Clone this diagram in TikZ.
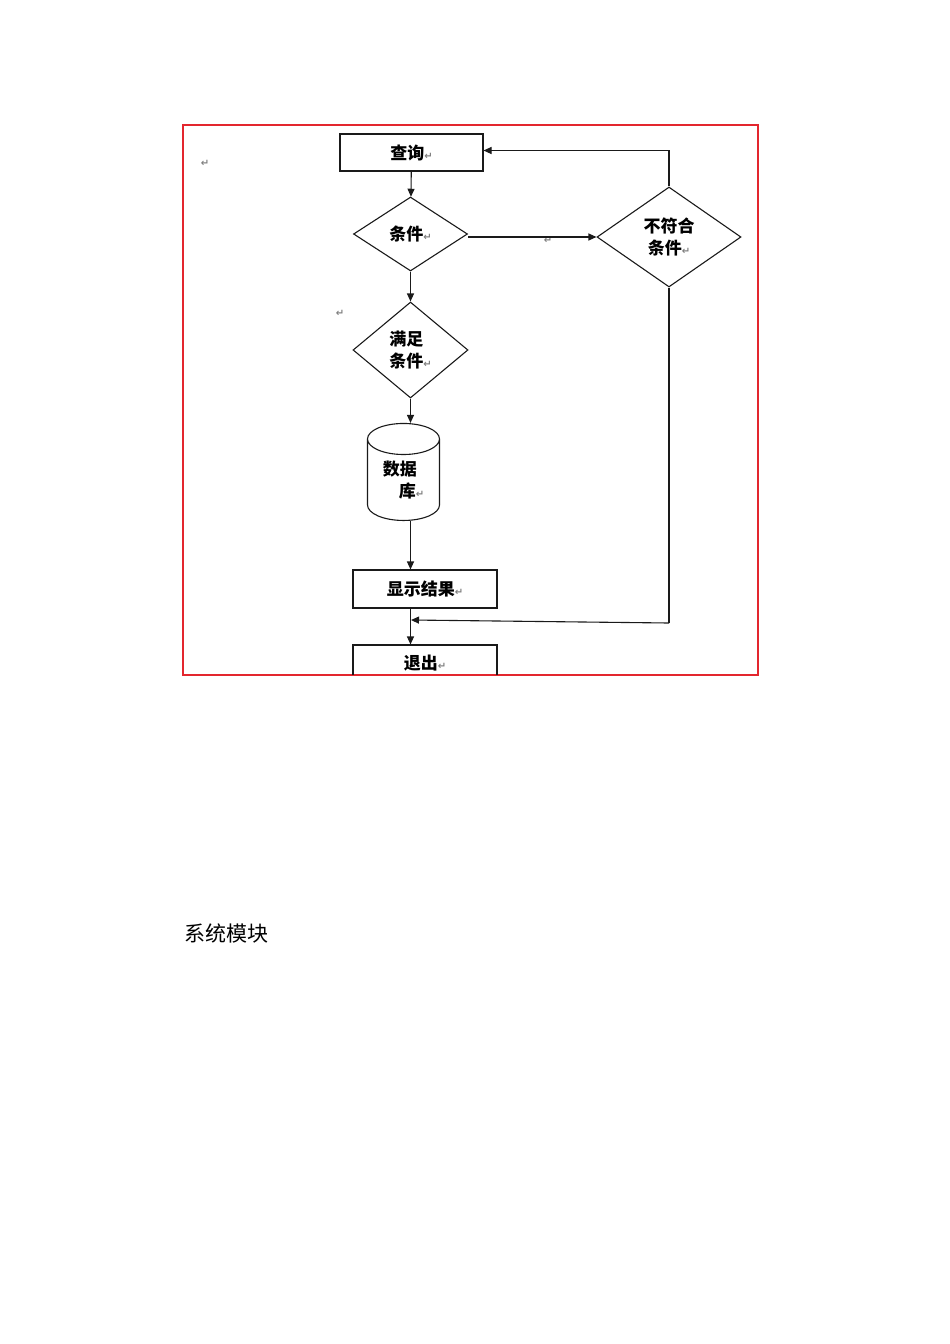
\documentclass[tikz,border=0pt]{standalone}
\usepackage{fontspec}
\usetikzlibrary{arrows.meta,shapes.geometric}
\newfontfamily\cjk{Noto Sans CJK SC}
\newfontfamily\symf{DejaVu Sans}
\definecolor{ink}{HTML}{1A1A1A}
\definecolor{frame}{HTML}{E3262E}
\definecolor{retgray}{HTML}{7F7F7F}
\newcommand{\ret}{{\symf\fontsize{10}{10}\selectfont\color{retgray}↵}}

\begin{document}
\begin{tikzpicture}[x=1pt,y=-1pt,font=\cjk\bfseries\fontsize{17}{22}\selectfont,
      box/.style={rectangle,draw=ink,line width=1.1pt,minimum width=143pt,
                  minimum height=37pt,inner sep=0pt},
      dec/.style={diamond,draw=ink,line width=1.1pt,inner sep=0pt},
      store/.style={cylinder,shape border rotate=90,draw=ink,line width=1.1pt,
                  aspect=0.75,minimum width=72pt,minimum height=97pt,inner sep=0pt},
      arr/.style={draw=ink,line width=1.1pt,-{Triangle[length=8pt,width=7pt]}},
      ln/.style={draw=ink,line width=1.1pt}]
    \useasboundingbox (0,0) rectangle (950,1344);
    \draw[frame,line width=2.5pt] (183,125) rectangle (758,675);
    \node[box] (query) at (411.5,152.5) {查询\ret};
    \node[dec,minimum width=114pt,minimum height=74pt] (cond) at (410.5,234) {条件\ret};
    \node[dec,minimum width=144pt,minimum height=100pt,align=center] (notok) at (669,237)
      {不符合\\条件\ret};
    \node[dec,minimum width=115pt,minimum height=96pt,align=left] (ok) at (410.5,350)
      {满足\\条件\ret};
    \node[store,align=left] (db) at (403.5,480) {数据\\\hspace{16pt}库\ret};
    \node[box,minimum width=144pt,minimum height=38pt] (show) at (425,589) {显示结果\ret};
    \begin{scope}
      \clip (183,125) rectangle (758,674);
      \node[box,minimum width=144pt] (exit) at (425,663.5) {退出\ret};
    \end{scope}
    \node (ret1) at (205,163) {\ret};
    \node (ret2) at (340,313) {\ret};
    \node (ret3) at (548,240) {\ret};
    \coordinate (back) at (669,623);
    \coordinate (join) at (411,620);
    \draw[arr] (query) -- (cond);
    \draw[arr] (cond.east |- notok.west) -- (notok.west);
    \draw[arr] (notok.north) |- ([yshift=2pt]query.east);
    \draw[arr] (cond) -- (ok);
    \draw[arr] (ok.south) -- (ok.south |- db.north);
    \draw[arr] (db.south -| ok.south) -- (show.north -| ok.south);
    \draw[arr] (show.south -| ok.south) -- (exit.north -| ok.south);
    \draw[ln] (notok.south) -- (back);
    \draw[arr] (back) -- (join);
    \node[anchor=west,font=\cjk\fontsize{21}{24}\selectfont] (title) at (181,933) {系统模块};
  \end{tikzpicture}
\end{document}
